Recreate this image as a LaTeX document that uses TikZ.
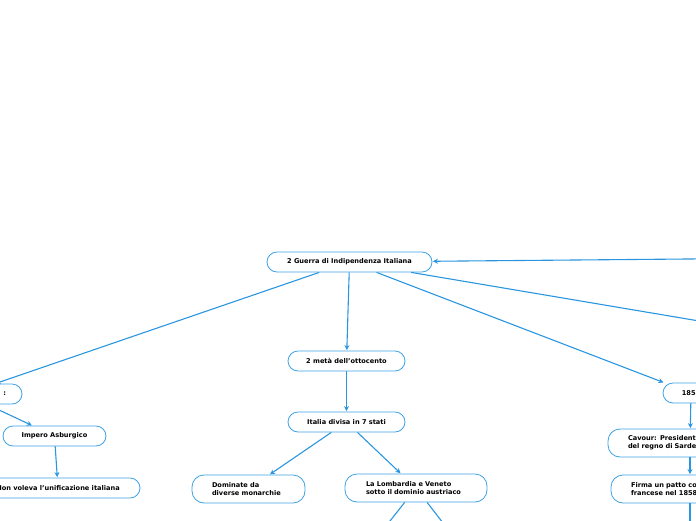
\documentclass[tikz,border=0pt]{standalone}
\usepackage{fontspec}
\setsansfont{DejaVu Sans}
\usepackage{tikz}
\usetikzlibrary{arrows.meta}
\definecolor{mline}{HTML}{2A96DF}
\definecolor{mbord}{HTML}{3EA2E6}
\tikzset{
  topic/.style={draw=mbord,fill=white,line width=0.8pt,rounded corners=10pt,minimum height=20pt,
                inner ysep=2pt,font=\sffamily\bfseries\fontsize{6.6}{8}\selectfont,text=black},
  topic2/.style={topic,minimum height=28pt,align=left,rounded corners=12pt},
  link/.style={-{Stealth[length=5pt,width=5pt]},draw=mline,line width=1.1pt,shorten >=0.5pt},
  link/.default=mline,
}
\begin{document}
\begin{tikzpicture}[x=1pt,y=-1pt]
  \useasboundingbox (0,0) rectangle (696,520);
  \clip (0,0) rectangle (696,520);
  % centre
  \node[topic,minimum width=165pt] (root) at (349.5,262) {2 Guerra di Indipendenza Italiana};
  \node[topic,minimum width=117pt] (ott) at (346.5,361) {2 metà dell'ottocento};
  \node[topic,minimum width=117pt] (stati) at (346.5,422) {Italia divisa in 7 stati};
  \node[topic2,minimum width=113pt,text width=73pt,inner xsep=20pt] (monar) at (248.5,489) {Dominate da\\diverse monarchie};
  \node[topic2,minimum width=142pt,text width=100pt,inner xsep=21pt] (lomb) at (416,488) {La Lombardia e Veneto\\sotto il dominio austriaco};
  % left
  \node[topic,minimum width=114pt,text width=82pt,inner xsep=16pt,align=right] (sx) at (-35,394) {:};
  \node[topic,minimum width=103pt] (asb) at (54.5,436) {Impero Asburgico};
  \node[topic,minimum width=164pt] (nonv) at (58,488) {Non voleva l'unificazione italiana};
  % right
  \node[topic,minimum width=56pt] (anno) at (691,393) {1858};
  \node[topic2,minimum width=164pt,text width=124pt,inner xsep=20pt] (cav) at (690,443) {Cavour: Presidente\\del regno di Sardegna};
  \node[topic2,minimum width=158pt,text width=118pt,inner xsep=20pt] (firma) at (690,489) {Firma un patto con\\francese nel 1858};
  % rami fuori dal quadro
  \coordinate (fuoriR) at (800,338);
  \coordinate (entraR) at (800,258);
  \coordinate (lombA) at (375,540);
  \coordinate (lombB) at (450,532);
  \coordinate (firmaG) at (690,540);
  \draw[link] (root) -- (sx);
  \draw[link] (root) -- (ott);
  \draw[link] (root) -- (anno);
  \draw[link] (root) -- (fuoriR);
  \draw[link] (entraR) -- (root);
  \draw[link] (ott) -- (stati);
  \draw[link] (stati) -- (monar);
  \draw[link] (stati) -- (lomb);
  \draw[link] (lomb) -- (lombA);
  \draw[link] (lomb) -- (lombB);
  \draw[link] (sx) -- (asb);
  \draw[link] (asb) -- (nonv);
  \draw[link] (anno) -- (cav);
  \draw[link] (cav) -- (firma);
  \draw[link] (firma) -- (firmaG);
\end{tikzpicture}
\end{document}
